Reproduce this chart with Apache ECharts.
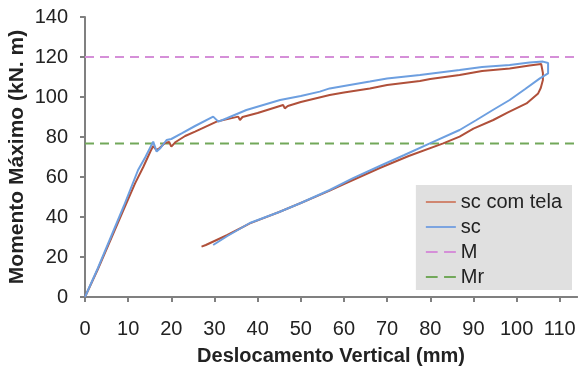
<!DOCTYPE html>
<html>
<head>
<meta charset="utf-8">
<script src="https://cdn.jsdelivr.net/npm/echarts@6/dist/echarts.min.js"></script>
<style>
  html, body { margin: 0; padding: 0; background: #ffffff; }
  #chart { width: 580px; height: 370px; }
</style>
</head>
<body>
<div id="chart"></div>
<script>
// Displacement (mm) vs. maximum moment (kN.m): loading, peak, and unloading path
const xTicks = [0, 10, 20, 30, 40, 50, 60, 70, 80, 90, 100, 110];
const yTicks = [0, 20, 40, 60, 80, 100, 120, 140];

const scComTela = [
  [0, 0], [3, 14], [6.2, 30], [9, 44], [11.6, 56.8], [13.5, 65], [15.2, 73], [15.8, 75.5],
  [16.5, 73.5], [17.3, 74.5], [18.5, 77], [19.5, 77.5], [20, 75.2], [21, 77.5], [23.2, 80.5],
  [25.5, 82.7], [30.5, 87.7], [35.5, 90.2], [35.9, 88.5], [36.5, 90], [40, 92], [45.9, 96],
  [46.3, 94.3], [47, 95.5], [50, 97.5], [56.7, 101], [60, 102.2], [66, 104.3], [70, 106],
  [77.6, 108], [80, 109], [86.8, 111], [92, 113], [98.4, 114.3], [103, 115.8], [105.7, 116.5],
  [106.1, 116], [106.1, 112], [106.1, 108.5], [105.6, 104.5], [105, 101.8], [102.3, 96.8],
  [98, 92.3], [94.6, 88.5], [90, 84.2], [86.8, 80.2], [83, 76.8], [75, 70.5], [68.3, 64.5],
  [60, 56.5], [56.7, 53.2], [50, 47], [45, 42.5], [38.2, 36.8], [33, 31], [30, 28], [28, 26],
  [27, 25.2]
];

const sc = [
  [0, 0], [3, 14.5], [6, 30], [9, 45.5], [12.3, 63.5], [14, 70], [15.8, 77.7], [16.6, 72.7],
  [17.5, 74.5], [18.9, 78.5], [20, 79], [22.4, 81.8], [25.5, 85.5], [29.7, 90.2], [30.9, 87.7],
  [33, 89.5], [37.4, 93.5], [45.2, 98.5], [50, 100.5], [54.4, 102.7], [56.7, 104.3], [60, 105.5],
  [66, 107.7], [70, 109.3], [77.6, 111], [86.8, 113.5], [92, 115], [98.4, 116], [103, 117.2],
  [106.1, 117.7], [107.3, 117], [107.3, 116], [107.3, 111.8], [105.4, 109.3], [102, 104],
  [98.4, 98.5], [94.5, 93.5], [90.7, 88.5], [86.8, 83.5], [79.9, 76.8], [74, 71], [68.3, 65.5],
  [62, 59.3], [56.7, 53.5], [50, 47], [45, 42.5], [38.2, 37], [33, 30.5], [29.7, 26]
];

// Reference moment levels
const mLevel = 120;
const mrLevel = 76.7;
const xMin = 0;
const xMax = 114;

const font = 'Liberation Sans, Arial, sans-serif';
const axisColor = '#808080';
const textColor = '#222222';

const chart = echarts.init(document.getElementById('chart'), null, { renderer: 'canvas' });

chart.setOption({
  backgroundColor: '#ffffff',
  animation: false,
  textStyle: { fontFamily: font },
  grid: { left: 85, right: 3, top: 17, bottom: 73, containLabel: false, outerBoundsMode: 'none' },
  legend: {
    orient: 'vertical',
    right: 8,
    top: 185,
    padding: [7, 10, 3, 10],
    backgroundColor: '#e0e0e0',
    itemWidth: 30,
    itemHeight: 14,
    itemGap: 5,
    align: 'left',
    textStyle: { fontSize: 20, color: textColor, fontFamily: font, lineHeight: 20 },
    data: [
      { name: 'sc com tela', icon: 'path://M0,0L30,0L30,2L0,2Z', itemStyle: { color: '#d08670' } },
      { name: 'sc', icon: 'path://M0,0L30,0L30,2L0,2Z', itemStyle: { color: '#7ca4e0' } },
      { name: 'M', icon: 'path://M0,0L11,0L11,2L0,2ZM17,0L28,0L28,2L17,2Z', itemStyle: { color: '#d58fd8' } },
      { name: 'Mr', icon: 'path://M0,0L11,0L11,2L0,2ZM17,0L28,0L28,2L17,2Z', itemStyle: { color: '#72a85a' } }
    ]
  },
  xAxis: [
    {
      type: 'value',
      min: xMin,
      max: xMax,
      interval: 10,
      name: 'Deslocamento Vertical (mm)',
      nameLocation: 'middle',
      nameGap: 49,
      nameMoveOverlap: false,
      nameTextStyle: { fontSize: 20, fontWeight: 'bold', color: textColor, fontFamily: font },
      axisLine: { show: true, onZero: false, lineStyle: { color: axisColor, width: 2 } },
      axisTick: { show: true, inside: false, length: 5, customValues: xTicks, lineStyle: { color: axisColor, width: 2 } },
      axisLabel: { fontSize: 20, color: textColor, margin: 22, customValues: xTicks, fontFamily: font },
      splitLine: { show: false }
    },
    {
      type: 'value',
      position: 'top',
      min: xMin,
      max: xMax,
      axisLine: { show: true, lineStyle: { color: axisColor, width: 2 } },
      axisTick: { show: false },
      axisLabel: { show: false },
      splitLine: { show: false }
    }
  ],
  yAxis: {
    type: 'value',
    min: yTicks[0],
    max: yTicks[yTicks.length - 1],
    interval: 20,
    name: 'Momento Máximo (kN. m)',
    nameLocation: 'middle',
    nameGap: 57,
    nameMoveOverlap: false,
    nameTextStyle: { fontSize: 21, fontWeight: 'bold', color: textColor, fontFamily: font },
    axisLine: { show: true, onZero: false, lineStyle: { color: axisColor, width: 2 } },
    axisTick: { show: true, inside: false, length: 5, lineStyle: { color: axisColor, width: 2 } },
    axisLabel: { fontSize: 20, color: textColor, margin: 17, fontFamily: font },
    splitLine: { show: false }
  },
  series: [
    {
      name: 'M',
      type: 'line',
      data: [[xMin, mLevel], [xMax, mLevel]],
      symbol: 'none',
      silent: true,
      lineStyle: { color: '#d58fd8', width: 2, type: [9, 6] },
      itemStyle: { color: '#d58fd8' }
    },
    {
      name: 'Mr',
      type: 'line',
      data: [[xMin, mrLevel], [xMax, mrLevel]],
      symbol: 'none',
      silent: true,
      lineStyle: { color: '#72a85a', width: 2, type: [9, 6] },
      itemStyle: { color: '#72a85a' }
    },
    {
      name: 'sc com tela',
      type: 'line',
      data: scComTela,
      symbol: 'none',
      smooth: false,
      lineStyle: { color: '#b0503a', width: 2 },
      itemStyle: { color: '#b0503a' }
    },
    {
      name: 'sc',
      type: 'line',
      data: sc,
      symbol: 'none',
      smooth: false,
      lineStyle: { color: '#6d9fe0', width: 2 },
      itemStyle: { color: '#6d9fe0' }
    }
  ]
});
</script>
</body>
</html>
